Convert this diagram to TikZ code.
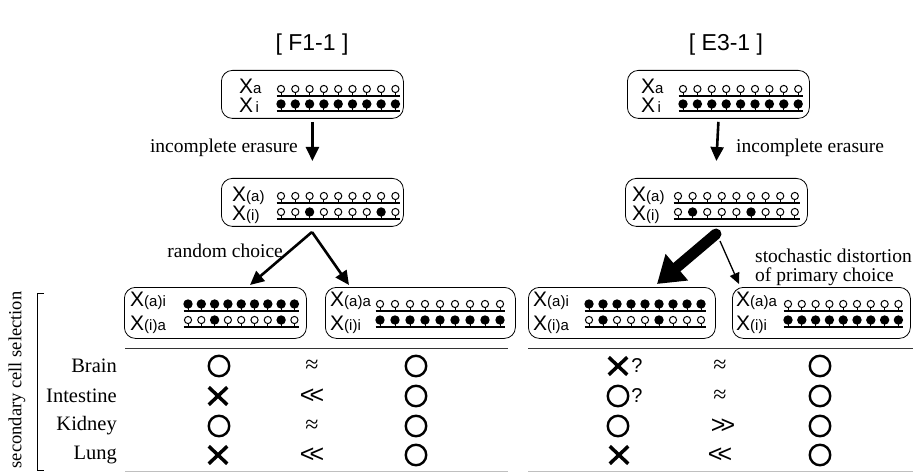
\documentclass[tikz,border=0pt]{standalone}
\usepackage{fontspec}
\setmainfont{Liberation Serif}
\setsansfont{Liberation Sans}
\usetikzlibrary{arrows.meta,shapes.misc}
\newcommand\smf[1]{{\fontsize{15}{15}\selectfont #1}}
\newcommand\lolrow[4]{%
  \draw[lolline] ({#1-4.5},#3) -- ({#1+8*#2+5},#3);
  \foreach \v [count=\i from 0] in {#4} {
    \pgfmathsetmacro\xx{#1+\i*#2}
    \draw[line width=1] (\xx,#3) -- (\xx,#3-3);
    \ifnum\v=1 \fill (\xx,#3-7) circle (4.7);
    \else \draw[line width=1] (\xx,#3-7) circle (3.6); \fi
  }
}
\begin{document}
\begin{tikzpicture}[x=1pt,y=-1pt,
  box/.style={draw, rounded corners=11, line width=0.8, inner sep=0, anchor=north west},
  xlab/.style={font=\sffamily\fontsize{21}{21}\selectfont, anchor=base west, inner sep=0},
  lolline/.style={line width=1.3},
  lab/.style={font=\fontsize{19.5}{20}\selectfont, inner sep=0},
  rowlab/.style={font=\fontsize{20.5}{21}\selectfont, anchor=east, inner sep=0},
  title/.style={font=\sffamily\fontsize{23}{23}\selectfont},
  arr/.style={line width=2.6, -{Triangle[length=14pt,width=13pt]}},
  osym/.style={circle, draw, line width=2.4, minimum size=20.5, inner sep=0},
  xsym/.style={cross out, draw, line width=3.5, minimum width=15, minimum height=14, inner sep=0},
  rel/.style={inner sep=0},
  approxf/.style={font=\fontsize{24}{24}\selectfont},
  llf/.style={font=\sffamily\fontsize{25}{25}\selectfont},
]
\useasboundingbox (0,0) rectangle (918,473);

% titles
\node[title] (T1) at (312,45) {[ F1-1 ]};
\node[title] (T2) at (726,45) {[ E3-1 ]};

% ---------- left column ----------
\node[box, minimum width=182, minimum height=48] (tl) at (221,70) {};
\node[xlab] (tla) at (239,94) {X\smf{a}};
\node[xlab] (tli) at (239,113) {X\smf{\,i}};
\lolrow{281}{14.3}{96}{0,0,0,0,0,0,0,0,0}
\lolrow{281}{14.3}{111}{1,1,1,1,1,1,1,1,1}

\node[box, minimum width=182, minimum height=48] (ml) at (221,178) {};
\node[xlab] (mla) at (232,201) {X\smf{(a)}};
\node[xlab] (mli) at (232,220) {X\smf{(i)}};
\lolrow{281}{14.3}{203}{0,0,0,0,0,0,0,0,0}
\lolrow{281}{14.3}{219}{0,0,1,0,0,0,0,1,0}

\draw[arr] ([yshift=-3pt]tl.south) -- ([yshift=17pt]ml.north);
\node[lab, anchor=east] (ie1) at (298,148) {incomplete erasure};

\coordinate (apL) at (312,232);
\coordinate (tipL1) at (250,285);
\coordinate (tipL2) at (349,285);
\draw[arr] (apL) -- (tipL1);
\draw[arr] (apL) -- (tipL2);
\node[lab, anchor=east] (rc) at (283,251) {random choice};

\node[box, minimum width=182, minimum height=51] (b1) at (124,287) {};
\node[xlab] (b1a) at (130,306) {X\smf{(a)i}};
\node[xlab] (b1i) at (130,330) {X\smf{(i)a}};
\lolrow{188}{13.3}{311}{1,1,1,1,1,1,1,1,1}
\lolrow{188}{13.3}{327}{0,0,1,0,0,0,0,1,0}

\node[box, minimum width=190, minimum height=51] (b2) at (325,287) {};
\node[xlab] (b2a) at (330,306) {X\smf{(a)a}};
\node[xlab] (b2i) at (330,330) {X\smf{(i)i}};
\lolrow{380}{15}{311}{0,0,0,0,0,0,0,0,0}
\lolrow{380}{15}{327}{1,1,1,1,1,1,1,1,1}

% ---------- right column ----------
\node[box, minimum width=182, minimum height=48] (tr) at (627,70) {};
\node[xlab] (tra) at (641,94) {X\smf{a}};
\node[xlab] (tri) at (641,113) {X\smf{\,i}};
\lolrow{683}{14.4}{96}{0,0,0,0,0,0,0,0,0}
\lolrow{683}{14.4}{111}{1,1,1,1,1,1,1,1,1}

\node[box, minimum width=182, minimum height=48] (mr) at (625,178) {};
\node[xlab] (mra) at (632,201) {X\smf{(a)}};
\node[xlab] (mri) at (632,220) {X\smf{(i)}};
\lolrow{678}{14.6}{203}{0,0,0,0,0,0,0,0,0}
\lolrow{678}{14.6}{219}{0,1,0,0,0,1,0,0,0}

\draw[arr] ([yshift=-3pt]tr.south) -- ([yshift=17pt]mr.north);
\node[lab, anchor=west] (ie2) at (736,148) {incomplete erasure};

\coordinate (apR) at (716,234);
\coordinate (tipR1) at (657,284);
\coordinate (apR2) at (720,241);
\coordinate (tipR2) at (739,284);
\draw[line width=11, line cap=round, -{Triangle[length=26pt,width=33pt]}] (apR) -- (tipR1);
\draw[line width=1.3, -{Triangle[length=11pt,width=10pt]}] (apR2) -- (tipR2);
\node[lab, anchor=north west, align=left, font=\fontsize{19.5}{19}\selectfont] (sd) at (755,249) {stochastic distortion\\of primary choice};

\node[box, minimum width=187, minimum height=51] (b3) at (528,287) {};
\node[xlab] (b3a) at (533,306) {X\smf{(a)i}};
\node[xlab] (b3i) at (533,330) {X\smf{(i)a}};
\lolrow{589}{14}{311}{1,1,1,1,1,1,1,1,1}
\lolrow{589}{14}{327}{0,1,0,0,0,1,0,0,0}

\node[box, minimum width=178, minimum height=51] (b4) at (732,287) {};
\node[xlab] (b4a) at (736,306) {X\smf{(a)a}};
\node[xlab] (b4i) at (736,330) {X\smf{(i)i}};
\lolrow{788}{13.8}{311}{0,0,0,0,0,0,0,0,0}
\lolrow{788}{13.8}{327}{1,1,1,1,1,1,1,1,1}

% ---------- table ----------
\draw[line width=0.9, black!80] (125,348) -- (508,348);
\draw[line width=0.9, black!80] (528,348) -- (913,348);
\draw[line width=1.2, black!25] (125,471.5) -- (508,471.5);
\draw[line width=1.2, black!25] (528,471.5) -- (913,471.5);

\draw[line width=1] (44,293) -- (37.5,293) -- (37.5,470) -- (44,470);
\node[rotate=90, font=\fontsize{18.5}{19}\selectfont] (sc) at (17,380) {secondary cell selection};

\node[rowlab] (r1) at (117,366) {Brain};
\node[rowlab] (r2) at (117,396) {Intestine};
\node[rowlab] (r3) at (117,426) {Kidney};
\node[rowlab] (r4) at (117,455) {Lung};

% left table
\node[osym] (l11) at (219,366) {};
\node[rel, approxf] (l12) at (312,366) {≈};
\node[osym] (l13) at (416,366) {};
\node[xsym] (l21) at (218,396) {};
\node[rel, llf] (l22) at (312,396) {<\kern-5pt<};
\node[osym] (l23) at (416,396) {};
\node[osym] (l31) at (219,426) {};
\node[rel, approxf] (l32) at (312,426) {≈};
\node[osym] (l33) at (416,426) {};
\node[xsym] (l41) at (218,455) {};
\node[rel, llf] (l42) at (312,455) {<\kern-5pt<};
\node[osym] (l43) at (416,455) {};

% right table
\node[xsym] (q11) at (618,366) {};
\node[rel, font=\sffamily\fontsize{20}{20}\selectfont] (q11q) at (637,366) {?};
\node[rel, approxf] (q12) at (720,366) {≈};
\node[osym] (q13) at (820,366) {};
\node[osym] (q21) at (618,396) {};
\node[rel, font=\sffamily\fontsize{20}{20}\selectfont] (q21q) at (637,396) {?};
\node[rel, approxf] (q22) at (720,396) {≈};
\node[osym] (q23) at (820,396) {};
\node[osym] (q31) at (618,426) {};
\node[rel, llf] (q32) at (723,426) {>\kern-5pt>};
\node[osym] (q33) at (820,426) {};
\node[xsym] (q41) at (619,455) {};
\node[rel, llf] (q42) at (720,455) {<\kern-5pt<};
\node[osym] (q43) at (820,455) {};
\end{tikzpicture}
\end{document}
